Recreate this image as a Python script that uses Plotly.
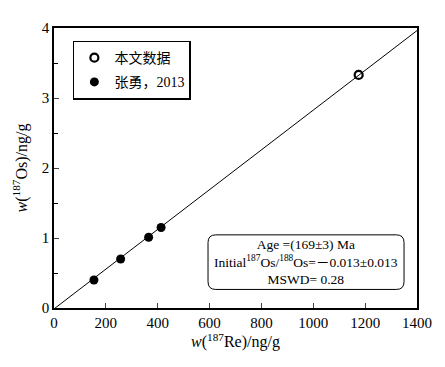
import plotly.graph_objects as go

# Data
zhang_re = [154, 257, 365, 413]
zhang_os = [0.40, 0.70, 1.01, 1.15]
this_re = [1175]
this_os = [3.33]
iso_x = [0, 1400]
iso_slope = 0.00284
iso_intercept = -0.013
iso_y = [iso_intercept + iso_slope * v for v in iso_x]

x_ticks = [0, 200, 400, 600, 800, 1000, 1200, 1400]
y_ticks = [0, 1, 2, 3, 4]

FONT = "'Liberation Serif', 'Times New Roman', 'Noto Sans CJK SC', serif"

fig = go.Figure()
fig.add_trace(go.Scatter(x=iso_x, y=iso_y, mode="lines",
                         line=dict(color="black", width=1), showlegend=False, hoverinfo="skip"))
fig.add_trace(go.Scatter(x=this_re, y=this_os, mode="markers", name="本文数据", legendgroup="a",
                         marker=dict(symbol="circle-open", size=8, color="black", line=dict(width=2.2, color="black"))))
fig.add_trace(go.Scatter(x=zhang_re, y=zhang_os, mode="markers", name="张勇，2013", legendgroup="b",
                         marker=dict(symbol="circle", size=9, color="black")))

# rounded box for the statistics
x0, x1, y0, y1 = 594, 1350, 0.265, 1.045
rx, ry = 30, 0.11
path = (f"M {x0+rx},{y0} L {x1-rx},{y0} Q {x1},{y0} {x1},{y0+ry} "
        f"L {x1},{y1-ry} Q {x1},{y1} {x1-rx},{y1} L {x0+rx},{y1} "
        f"Q {x0},{y1} {x0},{y1-ry} L {x0},{y0+ry} Q {x0},{y0} {x0+rx},{y0} Z")
fig.add_shape(type="path", path=path, xref="x", yref="y", line=dict(color="black", width=1))

fig.add_annotation(x=(x0 + x1) / 2, y=(y0 + y1) / 2, xref="x", yref="y", showarrow=False,
                   text="Age =(169±3) Ma<br>Initial<sup>187</sup>Os/<sup>188</sup>Os=－0.013±0.013<br>MSWD= 0.28",
                   font=dict(family=FONT, size=13.5, color="black"), align="center")

fig.update_layout(
    width=437, height=359,
    margin=dict(l=46, r=28, t=13, b=59),
    paper_bgcolor="white", plot_bgcolor="white",
    font=dict(family=FONT, size=14, color="black"),
    legend=dict(x=0.052, y=0.955, xanchor="left", yanchor="top",
                bordercolor="black", borderwidth=1.5, bgcolor="white",
                font=dict(family=FONT, size=14), itemwidth=30, tracegroupgap=3,
                traceorder="grouped"),
    xaxis=dict(range=[0, 1400], tickvals=x_ticks, ticks="inside", ticklen=5,
               showline=True, linecolor="black", linewidth=1.5, mirror=True,
               showgrid=False, zeroline=False, tickfont=dict(family=FONT, size=15),
               title=dict(text="<i>w</i>(<sup>187</sup>Re)/ng/g", standoff=2, font=dict(family=FONT, size=16))),
    yaxis=dict(range=[0, 4], tickvals=y_ticks, ticks="inside", ticklen=5,
               minor=dict(dtick=0.5, ticks="inside", ticklen=4, tickcolor="black"),
               showline=True, linecolor="black", linewidth=1.5, mirror=True,
               showgrid=False, zeroline=False, tickfont=dict(family=FONT, size=15),
               title=dict(text="<i>w</i>(<sup>187</sup>Os)/ng/g", standoff=10, font=dict(family=FONT, size=16))),
)

fig.write_html("out.html")
